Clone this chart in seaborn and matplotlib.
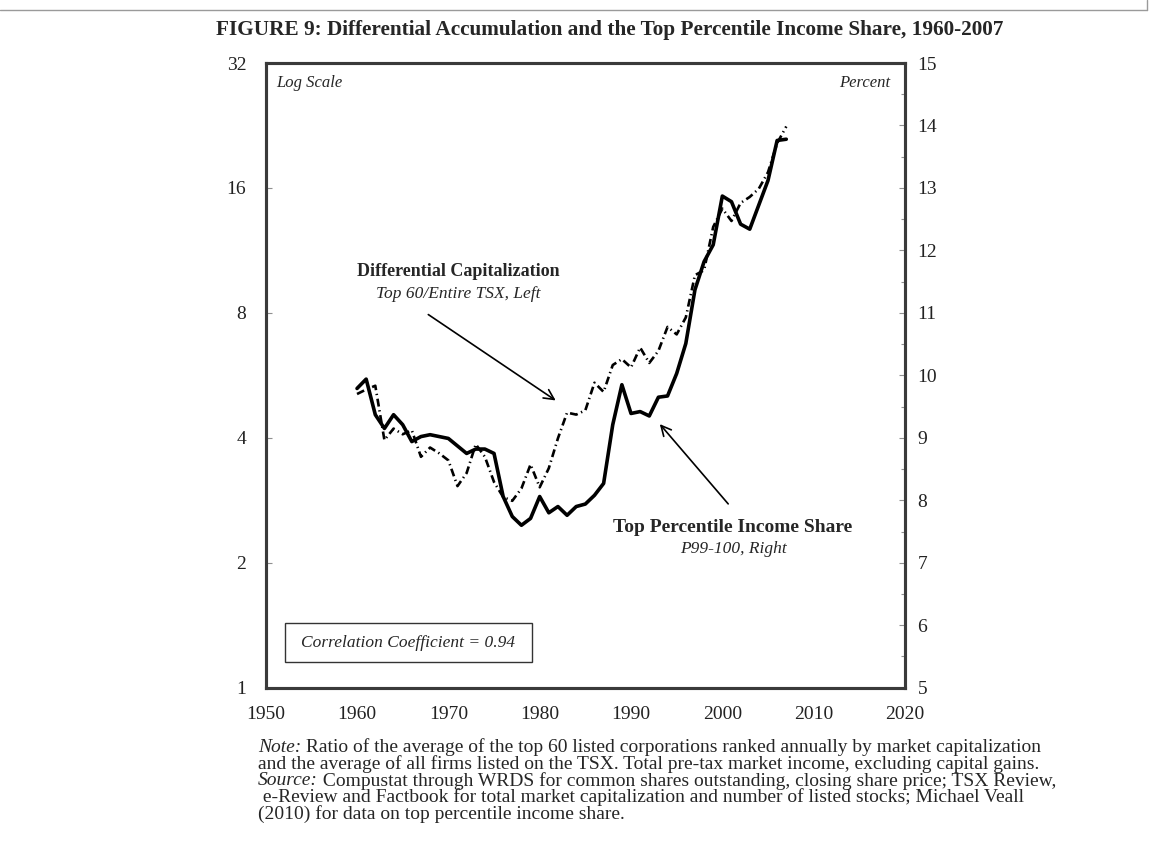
import numpy as np
import pandas as pd
import matplotlib
matplotlib.use('Agg')
import matplotlib.pyplot as plt
import matplotlib.ticker as mticker
import seaborn as sns

# Data
years = list(range(1960, 2008))
diff_cap = [5.10, 5.23, 5.34, 3.95, 4.21, 4.08, 4.17, 3.60, 3.79, 3.67,
            3.53, 3.06, 3.29, 3.86, 3.60, 3.13, 2.88, 2.82, 3.02, 3.45,
            3.04, 3.38, 3.99, 4.60, 4.55, 4.66, 5.43, 5.16, 5.99, 6.19,
            5.91, 6.60, 6.06, 6.48, 7.40, 7.10, 7.80, 9.86, 10.14, 12.89,
            14.27, 13.32, 14.72, 15.22, 15.94, 17.46, 20.50, 22.50]
top_share = [9.79, 9.94, 9.37, 9.15, 9.37, 9.21, 8.94, 9.02, 9.05, 9.02,
             8.99, 8.87, 8.75, 8.82, 8.82, 8.75, 8.06, 7.74, 7.60, 7.71,
             8.06, 7.80, 7.90, 7.76, 7.90, 7.94, 8.08, 8.27, 9.21, 9.85,
             9.39, 9.42, 9.35, 9.65, 9.67, 10.03, 10.51, 11.37, 11.82, 12.09,
             12.87, 12.78, 12.42, 12.34, 12.73, 13.12, 13.76, 13.78]
left_ticks = [1, 2, 4, 8, 16, 32]
right_ticks = list(range(5, 16))
x_ticks = list(range(1950, 2021, 10))

df = pd.DataFrame({'year': years, 'diff_cap': diff_cap, 'top_share': top_share})

sns.set_style('white')
plt.rcParams['font.family'] = ['Liberation Serif', 'DejaVu Serif']

W, H = 1152, 842
fig = plt.figure(figsize=(W / 100, H / 100), dpi=100)
ax = fig.add_axes([265.7 / W, 1 - 687.7 / H, (905 - 265.7) / W, (687.7 - 63) / H])
ax2 = ax.twinx()

def fp(x, y):
    # image pixel -> figure fraction
    return x / W, 1 - y / H

spine_col = '#3a3a3a'

# left axis: differential capitalization (log scale)
sns.lineplot(data=df, x='year', y='diff_cap', ax=ax, color='black', lw=1.9,
             linestyle=(0, (3.0, 1.4, 0.5, 1.4)), zorder=3)
ax.set_yscale('log', base=2)
ax.set_ylim(1, 32)
ax.set_xlim(1950, 2020)
ax.set_yticks(left_ticks)
ax.yaxis.set_major_formatter(mticker.FuncFormatter(lambda v, p: f'{v:g}'))
ax.yaxis.set_minor_locator(mticker.NullLocator())
ax.set_xticks(x_ticks)
ax.xaxis.set_minor_locator(mticker.MultipleLocator(2.5))
ax.set_xlabel('')
ax.set_ylabel('')

# right axis: top percentile income share
sns.lineplot(data=df, x='year', y='top_share', ax=ax2, color='black', lw=2.6, zorder=3)
ax2.set_ylim(5, 15)
ax2.set_yticks(right_ticks)
ax2.yaxis.set_minor_locator(mticker.MultipleLocator(0.5))
ax2.set_ylabel('')

for a in (ax, ax2):
    for s in a.spines.values():
        s.set_color(spine_col)
        s.set_linewidth(2.2)
    a.tick_params(which='both', direction='in', color='#909090', width=0.8,
                  labelsize=14, labelcolor='#222222')
    a.tick_params(which='major', length=4)
    a.tick_params(which='minor', length=3)
ax.tick_params(axis='x', which='major', length=0, pad=13)
ax.tick_params(axis='x', which='minor', length=4)
ax.tick_params(axis='y', which='major', length=4, pad=14)
ax2.tick_params(axis='y', pad=9)

# title
fig.text(*fp(610, 30), 'FIGURE 9: Differential Accumulation and the Top Percentile Income Share, 1960-2007',
         ha='center', va='center', fontsize=15.3, fontweight='bold')

# corner labels
fig.text(*fp(276, 83), 'Log Scale', ha='left', va='center', fontsize=12, style='italic')
fig.text(*fp(890, 83), 'Percent', ha='right', va='center', fontsize=12, style='italic')

# series labels and arrows
fig.text(*fp(458, 272), 'Differential Capitalization', ha='center', va='center',
         fontsize=13, fontweight='bold')
fig.text(*fp(458, 294), 'Top 60/Entire TSX, Left', ha='center', va='center',
         fontsize=12.5, style='italic')
ax.annotate('', xy=(558, H - 402), xycoords='figure pixels',
            xytext=(426, H - 313), textcoords='figure pixels',
            arrowprops=dict(arrowstyle='->', color='black', lw=1.2,
                            mutation_scale=18))

fig.text(*fp(733, 527), 'Top Percentile Income Share', ha='center', va='center',
         fontsize=14, fontweight='bold')
fig.text(*fp(733, 549), 'P99-100, Right', ha='center', va='center',
         fontsize=12.5, style='italic')
ax.annotate('', xy=(658, H - 422), xycoords='figure pixels',
            xytext=(730, H - 506), textcoords='figure pixels',
            arrowprops=dict(arrowstyle='->', color='black', lw=1.2,
                            mutation_scale=18))

# correlation box
box = plt.Rectangle(fp(285, 662), (532 - 285) / W, (662 - 623) / H, transform=fig.transFigure,
                    fill=False, edgecolor='#333333', lw=1.0)
fig.patches.append(box)
fig.text(*fp(408.5, 643), 'Correlation Coefficient = 0.94', ha='center', va='center',
         fontsize=12.5, style='italic')

# notes below the chart
note_lines = [
    ('Note:', ' Ratio of the average of the top 60 listed corporations ranked annually by market capitalization'),
    ('', 'and the average of all firms listed on the TSX. Total pre-tax market income, excluding capital gains.'),
    ('Source:', ' Compustat through WRDS for common shares outstanding, closing share price; TSX Review,'),
    ('', ' e-Review and Factbook for total market capitalization and number of listed stocks; Michael Veall'),
    ('', '(2010) for data on top percentile income share.'),
]
renderer = fig.canvas.get_renderer()
y0 = 747
for i, (pre, rest) in enumerate(note_lines):
    y = y0 + i * 16.8
    x = 258
    if pre:
        t = fig.text(*fp(x, y), pre, ha='left', va='center', fontsize=14, style='italic')
        x += t.get_window_extent(renderer).width
    fig.text(*fp(x, y), rest, ha='left', va='center', fontsize=14)

# thin page frame lines
fig.add_artist(plt.Line2D([0, 1147 / W], [1 - 10 / H, 1 - 10 / H], transform=fig.transFigure,
                          color='#9a9a9a', lw=1.0))
fig.add_artist(plt.Line2D([1147 / W, 1147 / W], [1, 1 - 10 / H], transform=fig.transFigure,
                          color='#9a9a9a', lw=1.0))

fig.savefig('out.png', dpi=100)
